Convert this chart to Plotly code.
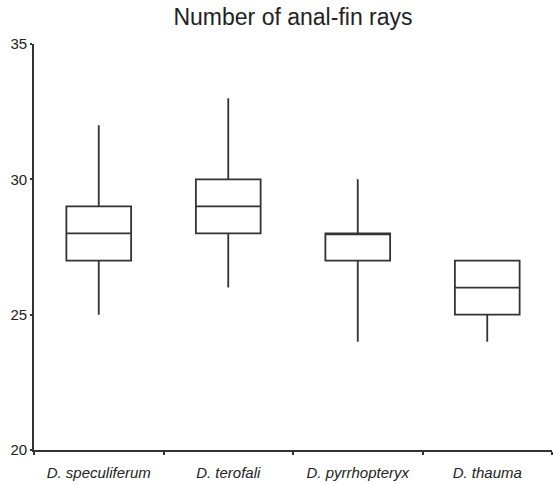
import plotly.graph_objects as go

categories = ["D. speculiferum", "D. terofali", "D. pyrrhopteryx", "D. thauma"]
mins = [25, 26, 24, 24]
q1s = [27, 28, 27, 25]
medians = [28, 29, 28, 26]
q3s = [29, 30, 28, 27]
maxs = [32, 33, 30, 27]

line_col = "#333333"
text_col = "#222222"

fig = go.Figure()
fig.add_trace(go.Box(
    x=categories, q1=q1s, median=medians, q3=q3s,
    lowerfence=mins, upperfence=maxs,
    fillcolor="white", line=dict(color=line_col, width=1.8),
    width=0.5, whiskerwidth=0, boxpoints=False, showlegend=False,
    hoverinfo="y",
))

fig.update_layout(
    width=553, height=484,
    margin=dict(l=34, r=1, t=44, b=34),
    paper_bgcolor="white", plot_bgcolor="white",
    font=dict(family="Liberation Sans, Arial, sans-serif", color=text_col, size=15),
    title=dict(text="Number of anal-fin rays", x=0.5, xref="paper",
               y=0.981, yanchor="top", font=dict(size=23)),
    xaxis=dict(
        type="category", categoryarray=categories, categoryorder="array",
        range=[-0.5, 3.5], showline=True, linecolor=line_col, linewidth=1.8,
        ticks="outside", ticklen=3, tickwidth=1.5, tickcolor=line_col,
        tickson="boundaries", showgrid=False, zeroline=False,
        ticklabelstandoff=8,
        tickfont=dict(size=15, style="italic"),
    ),
    xaxis2=dict(
        overlaying="x", anchor="y", range=[-0.5, 3.5],
        tickvals=[0.5, 1.5, 2.5, 3.5], ticks="inside", ticklen=9,
        tickwidth=1.5, tickcolor=line_col, showticklabels=False,
        showgrid=False, zeroline=False, showline=False,
    ),
    yaxis=dict(
        range=[20, 35], dtick=5, showline=True, linecolor=line_col,
        linewidth=1.8, ticks="outside", ticklen=2, tickwidth=1.5,
        tickcolor=line_col, showgrid=False, zeroline=False,
        tickfont=dict(size=15),
    ),
    yaxis2=dict(
        overlaying="y", anchor="x", side="left", range=[20, 35], dtick=5,
        ticks="inside", ticklen=8, tickwidth=1.5, tickcolor=line_col,
        showticklabels=False, showgrid=False, zeroline=False, showline=False,
    ),
)

fig.write_html("out.html")
